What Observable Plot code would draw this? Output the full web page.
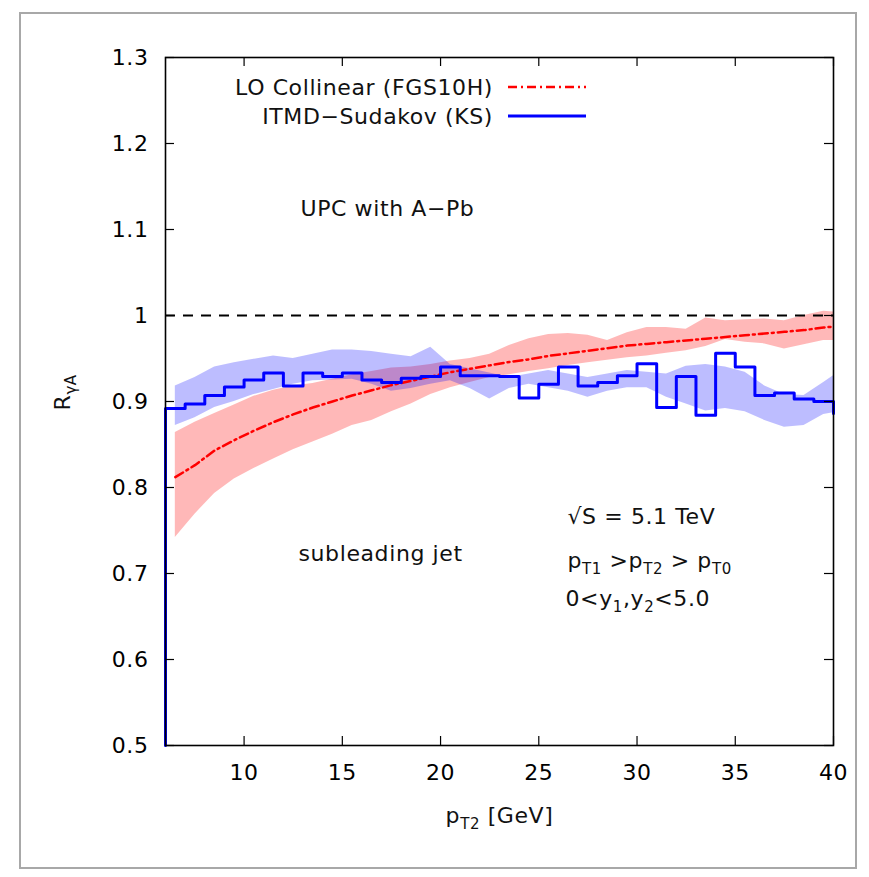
<!DOCTYPE html>
<html><head><meta charset="utf-8">
<script src="https://cdn.jsdelivr.net/npm/d3@7"></script>
<script src="https://cdn.jsdelivr.net/npm/@observablehq/plot@0.6"></script>
<style>
html,body{margin:0;padding:0;background:#fff;}
#wrap{position:relative;width:869px;height:877px;overflow:hidden;}
#wrap svg{position:absolute;left:0;top:0;}
#border{position:absolute;left:19px;top:12px;width:838px;height:857px;border:2px solid #a8a8a8;box-sizing:border-box;pointer-events:none;}
</style></head>
<body><div id="wrap"><div id="border"></div></div>
<script>
// ---- tick values and labels ----
const xTicks = [10, 15, 20, 25, 30, 35, 40];
const xTickLabels = ["10", "15", "20", "25", "30", "35", "40"];
const yTicks = [0.5, 0.6, 0.7, 0.8, 0.9, 1.0, 1.1, 1.2, 1.3];
const yTickLabels = ["0.5", "0.6", "0.7", "0.8", "0.9", "1", "1.1", "1.2", "1.3"];

// ---- ITMD-Sudakov (KS) histogram: bin edges and step values ----
const ksX = [6, 6, 7, 8, 9, 10, 11, 12, 13, 14, 15, 16, 17, 18, 19, 20, 21, 22, 23,
             24, 25, 26, 27, 28, 29, 30, 31, 32, 33, 34, 35, 36, 37, 38, 39, 40];
const ksY = [0.5, 0.892, 0.897, 0.907, 0.917, 0.925, 0.933, 0.918, 0.933, 0.929, 0.933,
             0.925, 0.922, 0.927, 0.929, 0.940, 0.930, 0.930, 0.929, 0.904, 0.920,
             0.940, 0.918, 0.922, 0.930, 0.944, 0.893, 0.929, 0.884, 0.956, 0.940,
             0.907, 0.910, 0.903, 0.900, 0.886];

// ---- band / curve sample positions (bin centres) ----
const bandX = [6.5, 7.5, 8.5, 9.5, 10.5, 11.5, 12.5, 13.5, 14.5, 15.5, 16.5, 17.5, 18.5,
               19.5, 20.5, 21.5, 22.5, 23.5, 24.5, 25.5, 26.5, 27.5, 28.5, 29.5, 30.5,
               31.5, 32.5, 33.5, 34.5, 35.5, 36.5, 37.5, 38.5, 39.5, 40];
const ksHi = [0.918, 0.928, 0.940, 0.945, 0.949, 0.953, 0.950, 0.955, 0.960, 0.960, 0.958,
              0.955, 0.952, 0.963, 0.943, 0.938, 0.933, 0.928, 0.932, 0.936, 0.932, 0.928,
              0.932, 0.936, 0.934, 0.932, 0.941, 0.943, 0.940, 0.934, 0.918, 0.908, 0.907,
              0.922, 0.930];
const ksLo = [0.872, 0.881, 0.893, 0.900, 0.908, 0.914, 0.920, 0.924, 0.925, 0.926, 0.920,
              0.912, 0.915, 0.920, 0.924, 0.915, 0.903, 0.915, 0.920, 0.916, 0.912, 0.905,
              0.912, 0.916, 0.916, 0.905, 0.897, 0.889, 0.892, 0.888, 0.878, 0.870, 0.872,
              0.885, 0.887];
// ---- LO collinear (FGS10H) ----
const loMid = [0.812, 0.826, 0.843, 0.855, 0.866, 0.876, 0.885, 0.893, 0.900, 0.907, 0.913,
               0.919, 0.924, 0.929, 0.934, 0.938, 0.942, 0.946, 0.949, 0.953, 0.956, 0.959,
               0.962, 0.965, 0.967, 0.969, 0.971, 0.973, 0.975, 0.977, 0.979, 0.981, 0.983,
               0.986, 0.987];
const loHi = [0.864, 0.876, 0.886, 0.896, 0.906, 0.913, 0.918, 0.921, 0.926, 0.931, 0.935,
              0.939, 0.940, 0.943, 0.947, 0.950, 0.955, 0.965, 0.973, 0.978, 0.979, 0.977,
              0.971, 0.980, 0.986, 0.986, 0.984, 0.997, 0.994, 0.995, 0.996, 0.994, 1.000,
              1.005, 1.004];
const loLo = [0.742, 0.769, 0.793, 0.810, 0.822, 0.833, 0.844, 0.853, 0.862, 0.872, 0.878,
              0.888, 0.897, 0.908, 0.916, 0.922, 0.928, 0.931, 0.935, 0.938, 0.942, 0.945,
              0.948, 0.951, 0.953, 0.956, 0.959, 0.964, 0.972, 0.969, 0.967, 0.961, 0.966,
              0.971, 0.971];

const refLine = [1];
const legendLabels = ["LO Collinear (FGS10H)", "ITMD\u2212Sudakov (KS)"];
const legendColors = ["#ff0000", "#0000ff"];
const legendDash = ["9,4,2,4", null];

// ---- build tables ----
const ks = ksX.map((x, i) => ({x, y: ksY[i]}));
const bands = bandX.map((x, i) => ({x, ksHi: ksHi[i], ksLo: ksLo[i], loMid: loMid[i], loHi: loHi[i], loLo: loLo[i]}));

const W = 869, H = 877, mL = 165, mR = 36, mT = 57, mB = 132;
const innerW = W - mL - mR, innerH = H - mT - mB;
const FONT = "DejaVu Sans";
const FS = 22;

function legendMark(index, scales, values, dims) {
  const g = d3.create("svg:g").attr("font-family", FONT).attr("font-size", FS);
  legendLabels.forEach((lab, i) => {
    const y = dims.marginTop + 30 + i * 29;
    g.append("text").attr("x", dims.marginLeft + 328).attr("y", y)
      .attr("text-anchor", "end").attr("dy", "0.35em").attr("fill", "#111").text(lab);
    const ln = g.append("line").attr("x1", dims.marginLeft + 343).attr("x2", dims.marginLeft + 421)
      .attr("y1", y).attr("y2", y).attr("stroke", legendColors[i])
      .attr("stroke-width", i === 0 ? 2.5 : 3);
    if (legendDash[i]) ln.attr("stroke-dasharray", legendDash[i]);
  });
  return g.node();
}

const annot = (txt, dx, dy, opts = {}) => Plot.text([txt], {
  text: d => d, frameAnchor: "top-left", dx, dy, textAnchor: "start",
  fontSize: FS, fill: "#111", ...opts
});

const chart = Plot.plot({
  width: W, height: H,
  marginLeft: mL, marginRight: mR, marginTop: mT, marginBottom: mB,
  style: {fontFamily: FONT, fontSize: FS + "px", background: "transparent", letterSpacing: "0.6px"},
  x: {domain: [6, 40], axis: null},
  y: {domain: [0.5, 1.3], axis: null},
  marks: [
    Plot.areaY(bands, {x: "x", y1: "loLo", y2: "loHi", fill: "#ff0000", fillOpacity: 0.28}),
    Plot.areaY(bands, {x: "x", y1: "ksLo", y2: "ksHi", fill: "#0000ff", fillOpacity: 0.26}),
    Plot.ruleY(refLine, {y: d => d, stroke: "#000", strokeWidth: 2, strokeDasharray: "10,8"}),
    Plot.line(bands, {x: "x", y: "loMid", stroke: "#ff0000", strokeWidth: 2.5, strokeDasharray: "9,4,2,4"}),
    Plot.line(ks, {x: "x", y: "y", curve: "step-after", stroke: "#0000ff", strokeWidth: 3}),
    // inward ticks on all four sides
    Plot.tickX(xTicks, {x: d => d, insetTop: innerH - 9, stroke: "#000", strokeWidth: 1.2}),
    Plot.tickX(xTicks, {x: d => d, insetBottom: innerH - 9, stroke: "#000", strokeWidth: 1.2}),
    Plot.tickY(yTicks, {y: d => d, insetRight: innerW - 9, stroke: "#000", strokeWidth: 1.2}),
    Plot.tickY(yTicks, {y: d => d, insetLeft: innerW - 9, stroke: "#000", strokeWidth: 1.2}),
    Plot.frame({stroke: "#000", strokeWidth: 1.6}),
    Plot.axisX({ticks: xTicks, tickSize: 0, tickPadding: 19, fontSize: FS, label: null,
      tickFormat: d => xTickLabels[xTicks.indexOf(d)]}),
    Plot.axisY({ticks: yTicks, tickSize: 0, tickPadding: 17, fontSize: FS, label: null,
      tickFormat: d => yTickLabels[yTicks.indexOf(d)]}),
    Plot.text(["p_{T2} [GeV]"], {text: d => d, frameAnchor: "bottom", dy: 77, fontSize: FS, fill: "#111"}),
    Plot.text(["R_{\u03b3A}"], {text: d => d, frameAnchor: "left", dx: -103, dy: 9, rotate: -90, fontSize: FS, fill: "#111"}),
    annot("UPC with A\u2212Pb", 135, 143),
    annot("subleading jet", 133, 488),
    annot("\u221aS = 5.1 TeV", 402, 451),
    annot("p_{T1} >p_{T2} > p_{T0}", 402, 495),
    annot("0<y_{1},y_{2}<5.0", 400, 533),
    legendMark
  ]
});

// convert _{...} markup to subscript tspans
d3.select(chart).selectAll("text").each(function () {
  const s = this.textContent;
  if (!s.includes("_{")) return;
  const parts = s.split(/(_\{[^}]*\})/).filter(p => p.length);
  const sel = d3.select(this);
  sel.selectAll("*").remove();
  this.textContent = "";
  let shifted = false;
  parts.forEach(p => {
    if (p.startsWith("_{")) {
      sel.append("tspan").attr("font-size", 15).attr("dy", shifted ? 0 : 6).text(p.slice(2, -1));
      shifted = true;
    } else {
      sel.append("tspan").attr("dy", shifted ? -6 : 0).text(p);
      shifted = false;
    }
  });
});

document.getElementById("wrap").prepend(chart);
</script>
</body></html>
